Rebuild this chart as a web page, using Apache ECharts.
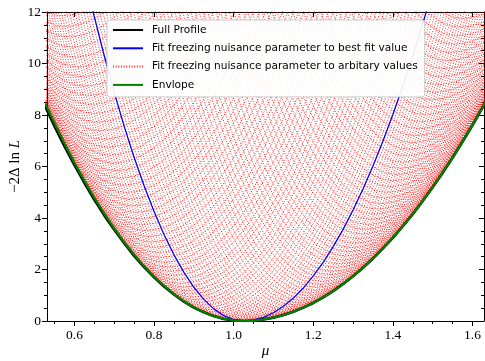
<!DOCTYPE html>
<html><head><meta charset="utf-8">
<script src="https://cdn.jsdelivr.net/npm/echarts@6/dist/echarts.min.js"></script>
<style>html,body{margin:0;padding:0;background:#fff}#c{width:485px;height:361px}</style>
</head><body><div id="c"></div>
<script>
// ---- axis ranges / ticks ----
const xRange = [0.531, 1.629];
const yRange = [0, 12];
const xMajorTicks = [0.6, 0.8, 1.0, 1.2, 1.4, 1.6];
const xMinorTicks = [0.55, 0.65, 0.7, 0.75, 0.85, 0.9, 0.95, 1.05, 1.1, 1.15, 1.25, 1.3, 1.35, 1.45, 1.5, 1.55];

// ---- blue: fit freezing nuisance parameter to best-fit value ----
const bestFitMu = 1.025;
const blueMu  = [0.625,0.65,0.675,0.7,0.725,0.75,0.775,0.8,0.825,0.85,0.875,0.9,0.925,0.95,0.975,1.0,1.025,
                 1.05,1.075,1.1,1.125,1.15,1.175,1.2,1.225,1.25,1.275,1.3,1.325,1.35,1.375,1.4,1.425,1.45,1.475,1.5];
const blueVal = [13.44,11.81,10.29,8.87,7.56,6.35,5.25,4.25,3.36,2.57,1.89,1.31,0.84,0.47,0.21,0.05,0,
                 0.04,0.14,0.32,0.57,0.89,1.28,1.75,2.28,2.89,3.56,4.31,5.13,6.02,6.98,8.02,9.12,10.30,11.54,12.86];

// ---- envelope (green) and full profile (black) ----
const envMu = [0.5,0.525,0.55,0.575,0.6,0.625,0.65,0.675,0.7,0.725,0.75,0.775,0.8,0.825,0.85,0.875,0.9,0.925,0.95,0.975,1.0,1.025,
               1.05,1.075,1.1,1.125,1.15,1.175,1.2,1.225,1.25,1.275,1.3,1.325,1.35,1.375,1.4,1.425,1.45,1.475,1.5,1.525,1.55,1.575,1.6,1.625,1.65];
const envVal = [9.37,8.50,7.67,6.89,6.14,5.44,4.78,4.17,3.59,3.06,2.57,2.13,1.72,1.36,1.04,0.77,0.53,0.34,0.19,0.09,0.02,0,
                0.01,0.06,0.13,0.23,0.36,0.52,0.70,0.92,1.16,1.44,1.74,2.07,2.43,2.82,3.23,3.68,4.15,4.66,5.19,5.75,6.34,6.96,7.60,8.28,8.98];
const fullVal = [9.23,8.38,7.56,6.78,6.05,5.36,4.71,4.10,3.54,3.02,2.53,2.09,1.70,1.34,1.03,0.75,0.52,0.34,0.19,0.08,0.02,0,
                0.01,0.06,0.13,0.23,0.36,0.52,0.70,0.92,1.16,1.44,1.74,2.07,2.43,2.82,3.23,3.68,4.15,4.66,5.19,5.75,6.34,6.96,7.60,8.28,8.98];

// ---- red: fits with nuisance parameter frozen at arbitrary values (minimum position / minimum value) ----
const redCenters = [
  0.569,0.577,0.585,0.593,0.601,0.609,0.617,0.625,0.633,0.641,0.649,0.657,0.665,0.673,0.681,0.689,0.697,0.705,0.713,0.721,
  0.729,0.737,0.745,0.753,0.761,0.769,0.777,0.785,0.793,0.801,0.809,0.817,0.825,0.833,0.841,0.849,0.857,0.865,0.873,0.881,
  0.889,0.897,0.905,0.913,0.921,0.929,0.937,0.945,0.953,0.961,0.969,0.977,0.985,0.993,1.001,1.009,1.017,1.025,
  1.033,1.041,1.049,1.057,1.065,1.073,1.081,1.089,1.097,1.105,1.113,1.121,1.129,1.137,1.145,1.153,1.161,1.169,1.177,1.185,
  1.193,1.201,1.209,1.217,1.225,1.233,1.241,1.249,1.257,1.265,1.273,1.281,1.289,1.297,1.305,1.313,1.321,1.329,1.337,1.345,
  1.353,1.361,1.369,1.377,1.385,1.393,1.401,1.409,1.417,1.425,1.433,1.441,1.449,1.457,1.465,1.473,1.481,1.489,1.497,1.505,
  1.513,1.521,1.529,1.537,1.545,1.553,1.561,1.569,1.577];
const redMinima = [
  11.85,11.44,11.04,10.64,10.25,9.86,9.49,9.12,8.76,8.41,8.06,7.72,7.39,7.06,6.75,6.44,6.13,5.84,5.55,5.27,
  4.99,4.73,4.47,4.22,3.97,3.74,3.51,3.28,3.07,2.86,2.66,2.47,2.28,2.10,1.93,1.77,1.61,1.46,1.32,1.18,
  1.05,0.93,0.82,0.72,0.62,0.53,0.44,0.36,0.30,0.23,0.18,0.13,0.09,0.06,0.03,0.01,0.00,0,
  0.00,0.01,0.02,0.04,0.06,0.09,0.12,0.16,0.20,0.25,0.30,0.36,0.42,0.48,0.56,0.63,0.71,0.80,0.89,0.99,
  1.09,1.19,1.31,1.42,1.54,1.67,1.80,1.93,2.08,2.22,2.37,2.53,2.69,2.85,3.02,3.20,3.38,3.56,3.75,3.95,
  4.15,4.35,4.56,4.78,5.00,5.22,5.45,5.69,5.93,6.17,6.42,6.67,6.93,7.20,7.47,7.74,8.02,8.30,8.59,8.88,
  9.18,9.49,9.80,10.11,10.43,10.75,11.08,11.41,11.75];

const names = ['Full Profile','Fit freezing nuisance parameter to best fit value',
               'Fit freezing nuisance parameter to arbitary values','Envlope'];

const serif = 'Liberation Serif';
const pairs = (xs, ys) => xs.map((x, i) => [x, ys[i]]);

const series = [];
redCenters.forEach((c, j) => {
  series.push({
    type: 'line', name: names[2], symbol: 'none', silent: true,
    data: blueMu.map((x, k) => [x + (c - bestFitMu), blueVal[k] + redMinima[j]]),
    lineStyle: {color: '#ff0000', width: 1, type: [1, 1.65], opacity: 0.85},
    itemStyle: {color: '#ff0000'}, z: 1
  });
});
series.push({type:'line', name: names[1], symbol:'none', data: pairs(blueMu, blueVal),
  lineStyle:{color:'#0000ff', width:1.3}, itemStyle:{color:'#0000ff'}, z: 3});
series.push({type:'line', name: names[0], symbol:'none', data: pairs(envMu, fullVal),
  lineStyle:{color:'#000000', width:2.6}, itemStyle:{color:'#000000'}, z: 4});
series.push({type:'line', name: names[3], symbol:'none', data: pairs(envMu, envVal),
  lineStyle:{color:'#008000', width:2.3}, itemStyle:{color:'#008000'}, z: 5});

const blk = {color:'#000', width:1};
const xBase = {type:'value', min:xRange[0], max:xRange[1], splitLine:{show:false}};
const chart = echarts.init(document.getElementById('c'));
chart.setOption({
  animation: false,
  grid: {left:47, right:1, top:12, bottom:40, outerBoundsMode:'none', containLabel:false},
  legend: {
    data: names, orient:'vertical', left:107, top:20, z: 20,
    itemWidth:30, itemHeight:10, itemGap:4.3,
    padding:[3,7,5,5],
    itemStyle:{opacity:0, color:'rgba(0,0,0,0)', borderColor:'rgba(0,0,0,0)', borderWidth:0},
    backgroundColor:'rgba(255,255,255,0.92)', borderColor:'#cccccc', borderWidth:1, borderRadius:3,
    textStyle:{fontFamily:'DejaVu Sans', fontSize:10.6, color:'#000', lineHeight:14, padding:[0,0,0,4]}
  },
  xAxis: [
    Object.assign({}, xBase, {position:'bottom',
      axisLine:{show:true, onZero:false, lineStyle:blk},
      axisTick:{show:true, inside:false, length:5, customValues:xMajorTicks, lineStyle:blk},
      axisLabel:{show:true, customValues:xMajorTicks, formatter:v=>v.toFixed(1), margin:7,
        fontFamily:serif, fontSize:13.5, color:'#000'},
      name:'μ', nameLocation:'middle', nameGap:23, nameMoveOverlap:false,
      nameTextStyle:{fontFamily:serif, fontStyle:'italic', fontSize:15, color:'#000'}}),
    Object.assign({}, xBase, {position:'bottom', axisLine:{show:false},
      axisTick:{show:true, inside:false, length:3, customValues:xMinorTicks, lineStyle:blk},
      axisLabel:{show:false}}),
    Object.assign({}, xBase, {position:'top', axisLine:{show:true, onZero:false, lineStyle:blk},
      axisTick:{show:true, inside:true, length:5, customValues:xMajorTicks, lineStyle:blk},
      axisLabel:{show:false}}),
    Object.assign({}, xBase, {position:'top', axisLine:{show:false},
      axisTick:{show:true, inside:true, length:3, customValues:xMinorTicks, lineStyle:blk},
      axisLabel:{show:false}})
  ],
  yAxis: [
    {type:'value', min:yRange[0], max:yRange[1], interval:2, position:'left', splitLine:{show:false},
      axisLine:{show:true, onZero:false, lineStyle:blk},
      axisTick:{show:true, inside:false, length:5, lineStyle:blk},
      minorTick:{show:true, splitNumber:4, length:3, lineStyle:blk},
      axisLabel:{margin:6, fontFamily:serif, fontSize:13.5, color:'#000'},
      name:'−2Δ ln {i|L}', nameLocation:'middle', nameGap:24, nameRotate:90, nameMoveOverlap:false,
      nameTextStyle:{fontFamily:serif, fontSize:15, color:'#000',
        rich:{i:{fontFamily:serif, fontStyle:'italic', fontSize:15, color:'#000'}}}},
    {type:'value', min:yRange[0], max:yRange[1], interval:2, position:'right', splitLine:{show:false},
      axisLine:{show:true, onZero:false, lineStyle:blk},
      axisTick:{show:true, inside:true, length:5, lineStyle:blk},
      minorTick:{show:true, splitNumber:4, length:3, lineStyle:blk},
      axisLabel:{show:false}}
  ],
  series: series
});
</script></body></html>
